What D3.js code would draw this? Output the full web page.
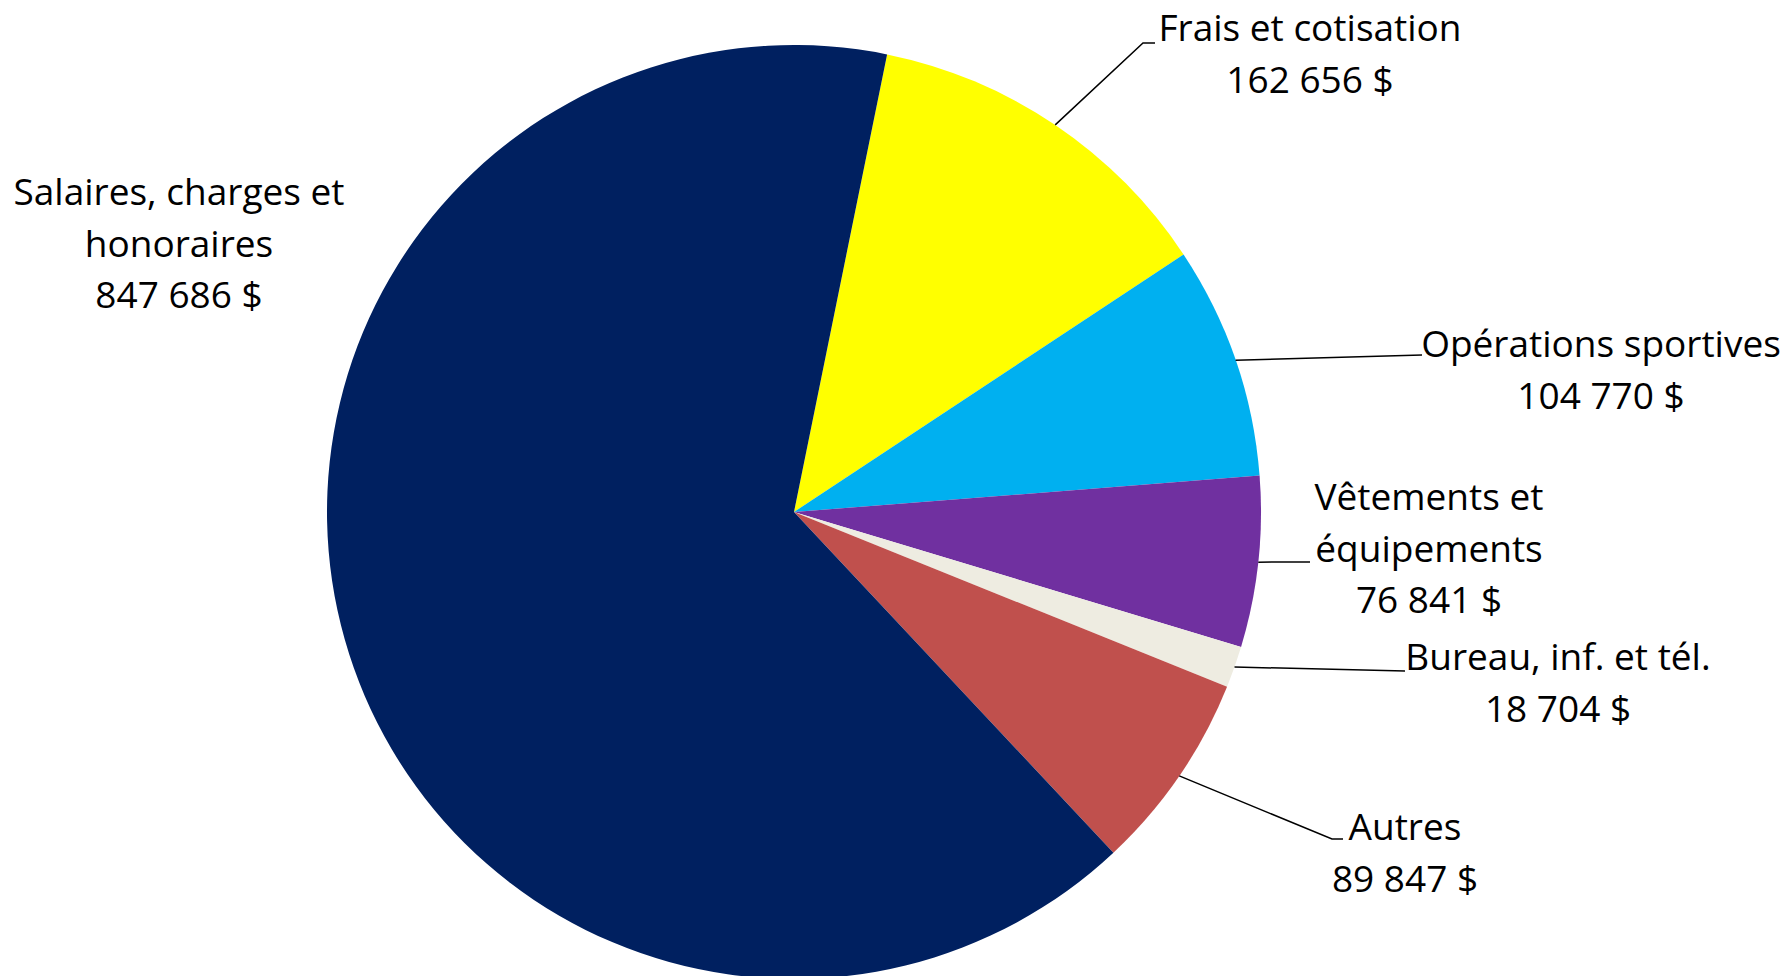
<!DOCTYPE html>
<html>
<head>
<meta charset="utf-8">
<script src="https://cdn.jsdelivr.net/npm/d3@7"></script>
<style>
  html, body { margin: 0; padding: 0; background: #ffffff; }
  svg { display: block; }
  text { font-family: "Open Sans", sans-serif; fill: #000; }
</style>
</head>
<body>
<svg id="chart" width="1789" height="976"></svg>
<script>
// ---- Data ----
const categories = ["Frais et cotisation", "Opérations sportives", "Vêtements et équipements", "Bureau, inf. et tél.", "Autres", "Salaires, charges et honoraires"];
const values = [162656, 104770, 76841, 18704, 89847, 847686];
const colors = ["#FFFF00", "#00B0F0", "#7030A0", "#EEECE1", "#C0504D", "#002060"];
// label line breaks (text only)
const labelLines = [
  ["Frais et cotisation"],
  ["Opérations sportives"],
  ["Vêtements et", "équipements"],
  ["Bureau, inf. et tél."],
  ["Autres"],
  ["Salaires, charges et", "honoraires"]
];

// ---- Layout ----
const W = 1789, H = 976;
const cx = 794, cy = 512, R = 467;
const startDeg = 11.5;
const fontSize = 37, lineH = 51.5;
// label layout: text center x, first baseline y, leader end, optional elbow
const labelLayout = [
  { x: 1310, y: 41,  end: [1155, 43],  elbow: [1143, 43] },
  { x: 1601, y: 357, end: [1422, 355] },
  { x: 1429, y: 510, end: [1310, 562] },
  { x: 1558, y: 670, end: [1405, 671] },
  { x: 1405, y: 840, end: [1343, 839], elbow: [1332, 839] },
  { x: 179,  y: 205, end: null }
];

const fmt = d3.formatLocale({ decimal: ",", thousands: " ", grouping: [3], currency: ["", " $"] }).format(",d");

const svg = d3.select("#chart");
const pie = d3.pie().sort(null).value(d => d)
  .startAngle(startDeg * Math.PI / 180)
  .endAngle(startDeg * Math.PI / 180 + 2 * Math.PI);
const arcs = pie(values);
const arc = d3.arc().innerRadius(0).outerRadius(R);

const g = svg.append("g").attr("transform", `translate(${cx},${cy})`);
g.selectAll("path.slice").data(arcs).join("path")
  .attr("class", "slice")
  .attr("d", arc)
  .attr("fill", (d, i) => colors[i]);

// leader lines
arcs.forEach((a, i) => {
  const L = labelLayout[i];
  if (!L.end) return;
  const mid = (a.startAngle + a.endAngle) / 2;
  const sx = cx + R * Math.sin(mid), sy = cy - R * Math.cos(mid);
  const pts = [[sx, sy]];
  if (L.elbow) pts.push(L.elbow);
  pts.push(L.end);
  svg.append("path")
    .attr("d", d3.line()(pts))
    .attr("fill", "none")
    .attr("stroke", "#000")
    .attr("stroke-width", 1.5);
});

// labels
arcs.forEach((a, i) => {
  const L = labelLayout[i];
  const lines = labelLines[i].concat([fmt(values[i]) + " $"]);
  const t = svg.append("text")
    .attr("text-anchor", "middle")
    .attr("font-size", fontSize);
  lines.forEach((ln, k) => {
    t.append("tspan").attr("x", L.x).attr("y", L.y + k * lineH).text(ln);
  });
});
</script>
</body>
</html>
